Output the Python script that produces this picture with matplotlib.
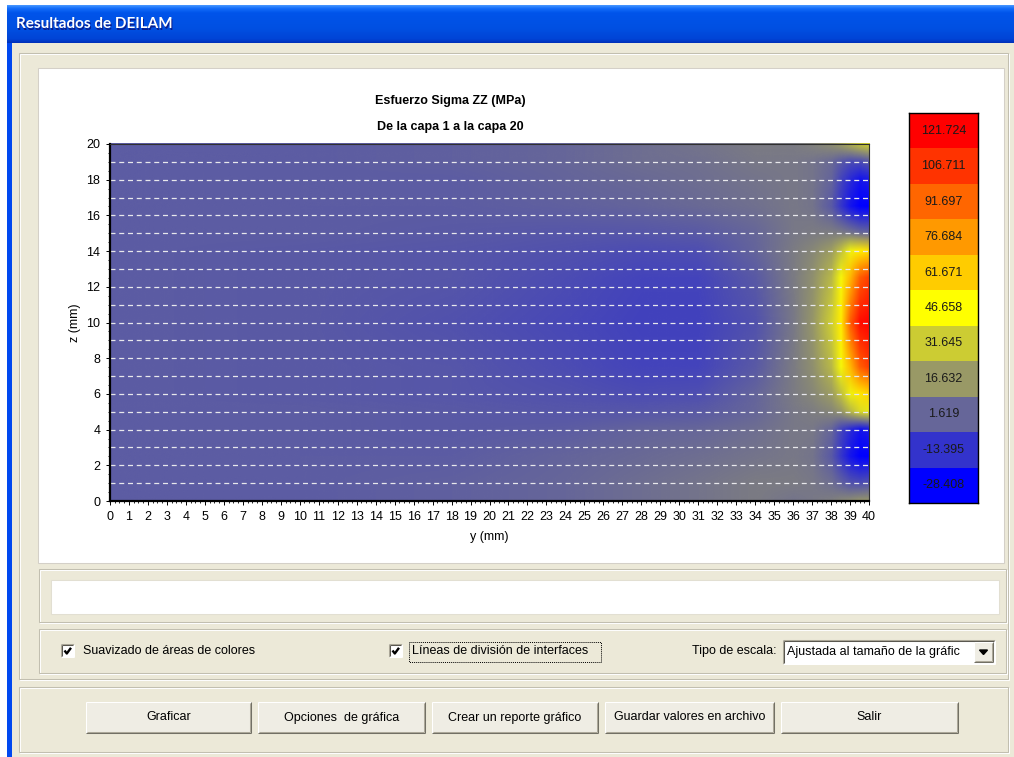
import numpy as np
import matplotlib
matplotlib.use("Agg")
import matplotlib.pyplot as plt
from matplotlib.patches import Rectangle, Polygon
from matplotlib.colors import LinearSegmentedColormap, Normalize
from matplotlib.image import NonUniformImage
from matplotlib.ticker import MultipleLocator

# ==========================================
# DATA
# ==========================================
y_mm = [0, 10, 18, 24, 28, 31, 34, 36, 37, 38, 38.5, 39, 39.5, 40]
z_mm = [0, 1, 2.5, 4, 5, 6, 7.5, 10, 12.5, 14, 15, 16.5, 18, 19, 20]

# sigma ZZ (MPa), one row per z_mm, one column per y_mm
sigma_zz = [
    [-1, -1,  0,  2,  4,  6,  8,  6,  7,  9, 11, 13,  15,  16],
    [-1, -1,  0,  2,  4,  6,  8,  8,  7,  4,  0, -4,  -6,  -4],
    [-1, -1, -1,  1,  3,  4,  6,  7,  6, -2, -12, -22, -28, -28],
    [-1, -1, -2, -1,  1,  2,  4,  7,  7,  2, -8, -16, -22, -20],
    [-1, -1, -2, -3, -3, -2,  2,  7,  9, 12, 16, 26,  36,  40],
    [-1, -2, -3, -4, -6, -5,  1,  8, 12, 18, 28, 42,  54,  60],
    [-1, -2, -3, -6, -8, -8, -2,  8, 14, 26, 44, 68,  94, 104],
    [-1, -2, -4, -7, -9, -9, -4,  7, 16, 32, 52, 95, 118, 121],
    [-1, -2, -3, -6, -8, -8, -2,  8, 14, 26, 44, 68,  94, 104],
    [-1, -2, -3, -4, -6, -5,  1,  8, 12, 18, 28, 42,  52,  56],
    [-1, -1, -2, -3, -3, -2,  2,  7,  8,  9,  8,  6,   3,   1],
    [-1, -1, -1,  0,  1,  3,  5,  7,  6, -2, -12, -22, -28, -28],
    [-1, -1, -1,  1,  3,  4,  6,  7,  6,  1, -8, -16, -22, -20],
    [-1, -1,  0,  2,  4,  5,  7,  7,  6,  3, -2, -6,  -6,  -2],
    [-1, -1,  0,  2,  4,  6,  8,  8, 10, 14, 18, 24,  30,  34],
]

interfaces_z = [1, 2, 3, 4, 5, 6, 7, 8, 9, 10, 11, 12, 13, 14, 15, 16, 17, 18, 19]

levels = [-28.408, -13.395, 1.619, 16.632, 31.645, 46.658,
          61.671, 76.684, 91.697, 106.711, 121.724]
level_colors = ['#0000ff', '#3333cc', '#666699', '#999966', '#cccc33', '#ffff00',
                '#ffcc00', '#ff9900', '#ff6600', '#ff3300', '#ff0000']

buttons = ["Graficar", "Opciones  de gráfica", "Crear un reporte gráfico",
           "Guardar valores en archivo", "Salir"]

# ==========================================
# WINDOW CHROME
# ==========================================
W, H = 1014, 757
FACE = '#ECE9D8'
UI_FONT = 'Liberation Sans'

fig = plt.figure(figsize=(W / 100, H / 100), dpi=100, facecolor='white')
bg = fig.add_axes([0, 0, 1, 1])
bg.set_xlim(0, W)
bg.set_ylim(H, 0)
bg.axis('off')


def rect(x0, y0, x1, y1, **kw):
    bg.add_patch(Rectangle((x0, y0), x1 - x0, y1 - y0, **kw))


def hline(x0, x1, y, c, lw=0.75):
    bg.plot([x0, x1], [y, y], color=c, lw=lw, solid_capstyle='butt')


def vline(x, y0, y1, c, lw=0.75):
    bg.plot([x, x], [y0, y1], color=c, lw=lw, solid_capstyle='butt')


def etched(x0, y0, x1, y1):
    rect(x0 + 1, y0 + 1, x1 + 1, y1 + 1, fill=False, ec='white', lw=0.75)
    rect(x0, y0, x1, y1, fill=False, ec='#C2BFB0', lw=0.75)


def raised(x0, y0, x1, y1):
    rect(x0, y0, x1, y1, fc='#EFEDE4', ec='none')
    hline(x0, x1, y0, 'white')
    vline(x0, y0, y1, 'white')
    hline(x0, x1, y1, '#716F64')
    vline(x1, y0, y1, '#716F64')
    hline(x0 + 1, x1 - 1, y1 - 1.2, '#ACA899')
    vline(x1 - 1.2, y0 + 1, y1 - 1, '#ACA899')


def sunken(x0, y0, x1, y1, face='white'):
    rect(x0, y0, x1, y1, fc=face, ec='none')
    hline(x0, x1, y0, '#ACA899')
    vline(x0, y0, y1, '#ACA899')
    hline(x0 + 1, x1 - 1, y0 + 1.2, '#5A5850')
    vline(x0 + 1.2, y0 + 1, y1 - 1, '#5A5850')
    hline(x0, x1, y1, 'white')
    vline(x1, y0, y1, 'white')


def checkbox(x0, y0):
    sunken(x0, y0, x0 + 13, y0 + 13)
    bg.plot([x0 + 3.5, x0 + 5.8, x0 + 10], [y0 + 6.5, y0 + 9.5, y0 + 3.8],
            color='black', lw=1.7, solid_capstyle='butt')


# window body and left border
rect(7, 5, W, H, fc=FACE, ec='none')
rect(7, 5, 12, H, fc='#0048F0', ec='none')

# XP style title bar
stops_y = [0.0, 0.08, 0.2, 0.6, 0.9, 1.0]
stops_c = np.array([[70, 150, 255], [20, 110, 250], [0, 84, 234],
                    [0, 80, 226], [0, 68, 214], [0, 48, 186]]) / 255.0
t = np.linspace(0, 1, 60)
grad = np.stack([np.interp(t, stops_y, stops_c[:, k]) for k in range(3)], axis=-1)
bg.imshow(grad[:, None, :], extent=(7, W, 43, 5), aspect='auto',
          interpolation='bilinear', zorder=1.5)
bg.set_xlim(0, W)
bg.set_ylim(H, 0)
bg.text(17, 25.5, "Resultados de DEILAM", color='#0A1E8C', fontsize=11,
        fontweight='bold', family='Lato', va='center')
bg.text(16, 24.5, "Resultados de DEILAM", color='white', fontsize=11,
        fontweight='bold', family='Lato', va='center')

# group frames
etched(19, 53, 1008, 679)
rect(38, 68, 1004, 563, fc='white', ec='#D4D0C8', lw=0.75)
etched(39, 569, 1006, 622)
rect(51, 580, 999, 614, fc='white', ec='#E2DFD2', lw=0.75)
etched(39, 629, 1006, 673)
etched(19, 687, 1008, 752)

# check boxes and combo box
checkbox(61, 644)
bg.text(83, 651, "Suavizado de áreas de colores", fontsize=9, family=UI_FONT, va='center')
checkbox(389, 644)
bg.text(412, 651, "Líneas de división de interfaces", fontsize=9, family=UI_FONT, va='center')
rect(409, 642, 601, 662, fill=False, ec='black', lw=0.7, ls=(0, (1, 1)))
bg.text(776, 651, "Tipo de escala:", fontsize=9, family=UI_FONT, va='center', ha='right')
sunken(783, 640, 995, 664)
bg.text(787, 652, "Ajustada al tamaño de la gráfic", fontsize=9, family=UI_FONT, va='center')
raised(974, 642, 993, 662)
bg.add_patch(Polygon([(979.5, 650), (987.5, 650), (983.5, 654.5)], closed=True, color='black'))

# buttons along the bottom
btn_x = [(86, 251), (258, 425), (432, 598), (605, 774), (781, 958)]
for label, (x0, x1) in zip(buttons, btn_x):
    raised(x0, 702, x1, 733)
    bg.text((x0 + x1) / 2, 717.5, label, fontsize=9, family=UI_FONT, ha='center', va='center')

# ==========================================
# STRESS MAP
# ==========================================
cmap = LinearSegmentedColormap.from_list('deilam', level_colors)
norm = Normalize(vmin=levels[0], vmax=levels[-1])

ax = fig.add_axes([110 / W, 1 - 501 / H, (869 - 110) / W, (501 - 144) / H])
im = NonUniformImage(ax, interpolation='bilinear', cmap=cmap, norm=norm)
im.set_data(y_mm, z_mm, np.array(sigma_zz, dtype=float))
ax.add_image(im)
ax.set_xlim(0, 40)
ax.set_ylim(0, 20)

# layer interface lines
ax.hlines(interfaces_z, 0, 40, colors='#E8E8EC', linestyles=(0, (4, 3)), linewidth=0.9)

ax.set_xticks(range(0, 41))
ax.set_yticks(range(0, 21, 2))
ax.xaxis.set_minor_locator(MultipleLocator(0.25))
ax.yaxis.set_minor_locator(MultipleLocator(0.5))
ax.tick_params(which='major', direction='out', length=3, width=0.7, labelsize=9, pad=4)
ax.tick_params(which='minor', direction='out', length=1.6, width=0.6)
for lab in ax.get_xticklabels() + ax.get_yticklabels():
    lab.set_family(UI_FONT)

for side in ['left', 'bottom']:
    ax.spines[side].set_linewidth(1.6)
    ax.spines[side].set_color('black')
for side in ['top', 'right']:
    ax.spines[side].set_linewidth(0.8)
    ax.spines[side].set_color('#303030')

ax.set_xlabel("y (mm)", fontsize=9, family=UI_FONT)
ax.xaxis.label.set_va('center')
ax.xaxis.set_label_coords(0.5, -(537 - 501) / 357)
ax.set_ylabel("z (mm)", fontsize=9, family=UI_FONT)
ax.yaxis.label.set_va('center')
ax.yaxis.set_label_coords((75 - 110) / 759, 0.5)

fig.text(450 / W, 1 - 101 / H, "Esfuerzo Sigma ZZ (MPa)", fontsize=9, fontweight='bold',
         family=UI_FONT, ha='center', va='center')
fig.text(450 / W, 1 - 127 / H, "De la capa 1 a la capa 20", fontsize=9, fontweight='bold',
         family=UI_FONT, ha='center', va='center')

# discrete colour scale on the right
cb = fig.add_axes([909 / W, 1 - 503 / H, 69 / W, 390 / H])
pos = np.arange(len(levels))
cb.barh(pos, [1] * len(levels), height=1.0, left=0, color=level_colors, edgecolor='none')
cb.set_xlim(0, 1)
cb.set_ylim(-0.5, len(levels) - 0.5)
cb.set_xticks([])
cb.set_yticks([])
for p, v in zip(pos, levels):
    cb.text(0.5, p, f"{v:.3f}", ha='center', va='center', fontsize=9,
            family=UI_FONT, color='#1A1A1A')
for s in cb.spines.values():
    s.set_linewidth(1.0)
    s.set_color('black')

fig.savefig('out.png', dpi=100, facecolor=fig.get_facecolor())
